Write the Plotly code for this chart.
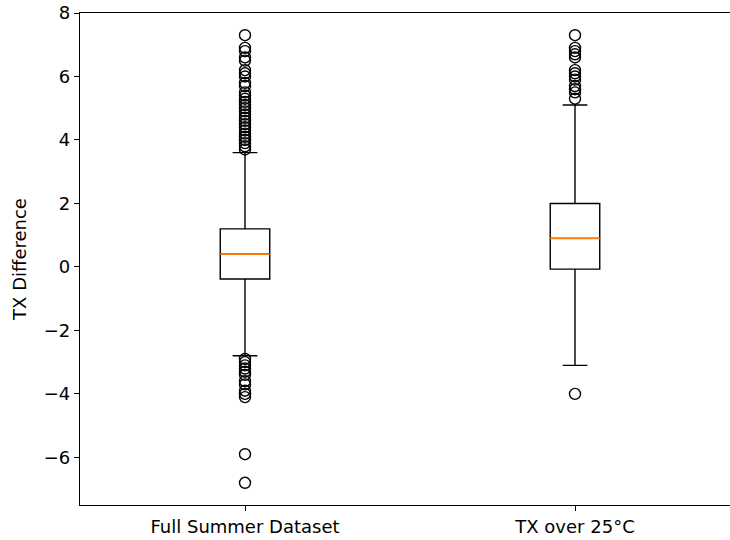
import plotly.graph_objects as go

categories = ["Full Summer Dataset", "TX over 25°C"]
positions = [1, 2]
q1 = [-0.38, -0.07]
median = [0.40, 0.90]
q3 = [1.20, 2.00]
lower_whisker = [-2.8, -3.1]
upper_whisker = [3.6, 5.1]

outliers_full = [7.3, 6.9, 6.8, 6.6, 6.5, 6.2, 6.1, 6.0, 5.8, 5.7, 5.5, 5.4, 5.3, 5.2,
                 5.1, 5.0, 4.9, 4.8, 4.7, 4.6, 4.5, 4.4, 4.3, 4.2, 4.1, 4.0, 3.9, 3.8, 3.7,
                 -2.9, -3.0, -3.1, -3.2, -3.3, -3.4, -3.6, -3.7, -3.9, -4.0, -4.1, -5.9, -6.8]
outliers_hot = [7.3, 6.9, 6.8, 6.7, 6.6, 6.2, 6.1, 6.0, 5.9, 5.7, 5.6, 5.5, 5.3, -4.0]
outliers = [outliers_full, outliers_hot]
y_ticks = [-6, -4, -2, 0, 2, 4, 6, 8]
y_ticktext = ["−6", "−4", "−2", "0", "2", "4", "6", "8"]

box_width = 0.15

fig = go.Figure()
for i in range(2):
    fig.add_trace(go.Box(
        x=[positions[i]], q1=[q1[i]], median=[median[i]], q3=[q3[i]],
        lowerfence=[lower_whisker[i]], upperfence=[upper_whisker[i]],
        width=box_width, whiskerwidth=0.5, fillcolor="rgba(0,0,0,0)",
        line=dict(color="black", width=1.4), boxpoints=False, showlegend=False,
        hoverinfo="skip"))
    fig.add_trace(go.Scatter(
        x=[positions[i] - box_width / 2, positions[i] + box_width / 2],
        y=[median[i], median[i]], mode="lines",
        line=dict(color="#ff7f0e", width=1.6), showlegend=False))
    fig.add_trace(go.Scatter(
        x=[positions[i]] * len(outliers[i]), y=outliers[i], mode="markers",
        marker=dict(symbol="circle-open", size=11, color="black",
                    line=dict(width=1.4, color="black")),
        showlegend=False))

font = dict(family="DejaVu Sans", size=18, color="black")
fig.update_layout(
    width=730, height=540,
    margin=dict(l=80, r=0, t=13, b=35),
    plot_bgcolor="white", paper_bgcolor="white",
    font=font,
    xaxis=dict(range=[0.5, 0.5 + 650 / 330], tickmode="array", tickvals=positions,
               ticktext=categories, showgrid=False, zeroline=False,
               showline=True, linecolor="black", linewidth=1.3, mirror=True,
               ticks="outside", ticklen=5, tickcolor="black", tickfont=font),
    yaxis=dict(range=[-7.5, 8], tickmode="array", tickvals=y_ticks,
               ticktext=y_ticktext, ticklabeloverflow="allow",
               showgrid=False, zeroline=False, showline=True, linecolor="black",
               linewidth=1.3, ticks="outside", ticklen=5, tickcolor="black",
               tickfont=font, title=dict(text="TX Difference", font=font, standoff=12)),
)
fig.write_html("out.html", config={"displayModeBar": False},
               post_script="document.body.style.margin='0';document.body.style.overflow='hidden';")
